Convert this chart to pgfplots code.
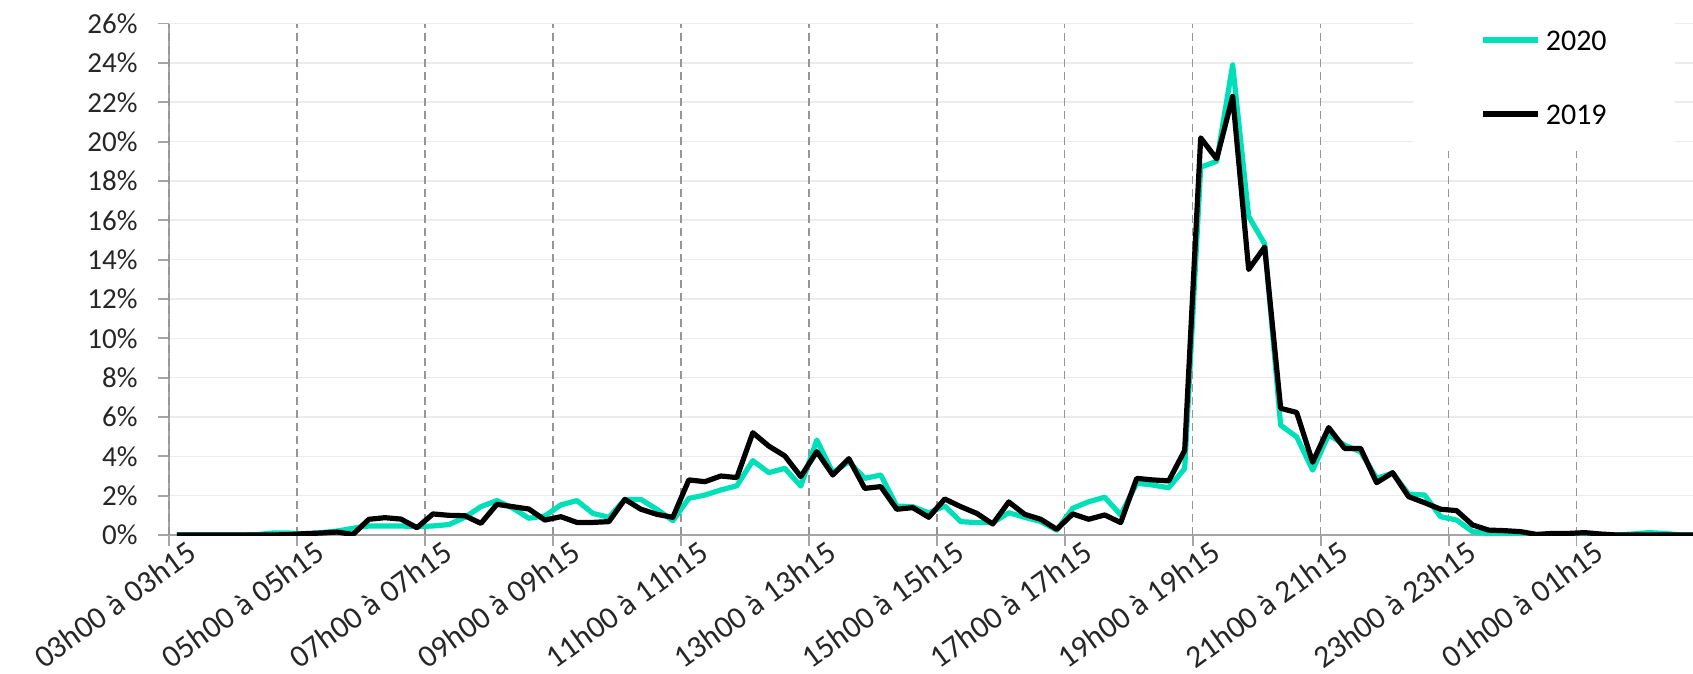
\documentclass[border=0pt]{standalone}
\usepackage{fontspec}
\setmainfont{Carlito}
\usepackage{pgfplots}
\usepackage{pgfplotstable}
\pgfplotsset{compat=1.18}
\definecolor{c2020}{RGB}{0,224,184}
\definecolor{gridgray}{RGB}{236,236,236}
\definecolor{dashgray}{RGB}{150,150,150}
\definecolor{axisgray}{RGB}{165,165,165}
\pgfplotstableread{
i  y2020 y2019
0  0     0
1  0     0
2  0     0
3  0     0
4  0     0
5  0.02  0
6  0.10  0
7  0.10  0.02
8  0.05  0.07
9  0.12  0.10
10 0.20  0.15
11 0.34  0.03
12 0.46  0.80
13 0.46  0.88
14 0.46  0.81
15 0.42  0.37
16 0.46  1.07
17 0.53  1.00
18 0.90  0.98
19 1.44  0.59
20 1.75  1.56
21 1.36  1.44
22 0.85  1.32
23 0.97  0.76
24 1.53  0.93
25 1.75  0.64
26 1.10  0.64
27 0.90  0.68
28 1.81  1.81
29 1.81  1.31
30 1.31  1.05
31 0.73  0.90
32 1.86  2.80
33 2.03  2.71
34 2.29  3.00
35 2.50  2.92
36 3.78  5.20
37 3.17  4.52
38 3.39  4.02
39 2.49  2.97
40 4.83  4.24
41 3.17  3.05
42 3.73  3.88
43 2.88  2.37
44 3.05  2.46
45 1.47  1.31
46 1.44  1.39
47 1.13  0.90
48 1.47  1.83
49 0.68  1.44
50 0.63  1.10
51 0.63  0.56
52 1.13  1.68
53 0.90  1.05
54 0.68  0.80
55 0.25  0.29
56 1.36  1.07
57 1.69  0.80
58 1.92  1.02
59 1.02  0.63
60 2.63  2.88
61 2.54  2.80
62 2.40  2.75
63 3.38  4.30
64 18.70 20.19
65 19.00 19.12
66 23.90 22.30
67 16.20 13.50
68 14.80 14.64
69 5.58  6.44
70 4.99  6.23
71 3.30  3.70
72 5.10  5.46
73 4.57  4.40
74 4.23  4.40
75 2.88  2.66
76 3.14  3.17
77 2.08  1.95
78 2.03  1.64
79 0.93  1.31
80 0.76  1.24
81 0.17  0.51
82 0.08  0.25
83 0.08  0.22
84 0.05  0.17
85 0     0.03
86 0     0.08
87 0     0.08
88 0     0.12
89 0     0.05
90 0     0
91 0.05  0
92 0.12  0
93 0.08  0
94 0     0
95 0     0
}\datatable
\begin{document}
\begin{tikzpicture}
\begin{axis}[
  scale only axis,
  width=762pt, height=255.7pt,
  xmin=-0.5, xmax=94.78, ymin=0, ymax=26,
  axis x line*=bottom, axis y line*=left,
  axis line style={axisgray, line width=0.9pt},
  tick align=outside,
  major tick length=5.5pt,
  every tick/.style={axisgray, line width=0.9pt},
  /pgf/number format/assume math mode=true,
  tick label style={font=\fontsize{14.5pt}{17pt}\selectfont, text=black!85},
  ytick={0,2,...,26},
  yticklabel={\pgfmathprintnumber{\tick}\%},
  yticklabel style={anchor=east, inner sep=0pt, xshift=-10pt},
  ymajorgrids,
  major grid style={gridgray, line width=0.8pt},
  xtick={0,8,...,88},
  xticklabels={03h00 à 03h15,05h00 à 05h15,07h00 à 07h15,09h00 à 09h15,11h00 à 11h15,13h00 à 13h15,15h00 à 15h15,17h00 à 17h15,19h00 à 19h15,21h00 à 21h15,23h00 à 23h15,01h00 à 01h15},
  xtick style={draw=none},
  xticklabel style={rotate=36, anchor=north east, inner sep=0pt, xshift=5.5pt, yshift=0.3pt, font=\fontsize{15.8pt}{18pt}\selectfont},
  extra x ticks={-0.5,7.5,15.5,23.5,31.5,39.5,47.5,55.5,63.5,71.5,79.5,87.5},
  extra x tick labels={},
  extra x tick style={grid=major, major grid style={dashgray, line width=0.75pt, dash pattern=on 4pt off 2.5pt}, xtick style={draw=axisgray}},
  legend style={at={(rel axis cs:0.902,0.894)}, anchor=center, fill=white, draw=none,
    font=\fontsize{15pt}{17pt}\selectfont, inner xsep=34pt, inner ysep=13pt,
    row sep=27pt, column sep=2.5pt, nodes={inner sep=0pt, text height=10pt, text depth=0pt}},
  legend cell align=left,
  legend image code/.code={\draw[#1] (0pt,0.4pt) -- (27.5pt,0.4pt);},
]
\addplot[c2020, line width=2.6pt, line join=round] table[x=i, y=y2020] {\datatable};
\addlegendentry{2020}
\addplot[black, line width=2.6pt, line join=round] table[x=i, y=y2019] {\datatable};
\addlegendentry{2019}
\coordinate (ll) at (rel axis cs:0,0);
\coordinate (ur) at (rel axis cs:1,1);
\end{axis}
\pgfresetboundingbox
\path[use as bounding box] ([xshift=-84.5pt,yshift=-69pt]ll) rectangle ([yshift=11.8pt]ur);
\end{tikzpicture}
\end{document}
